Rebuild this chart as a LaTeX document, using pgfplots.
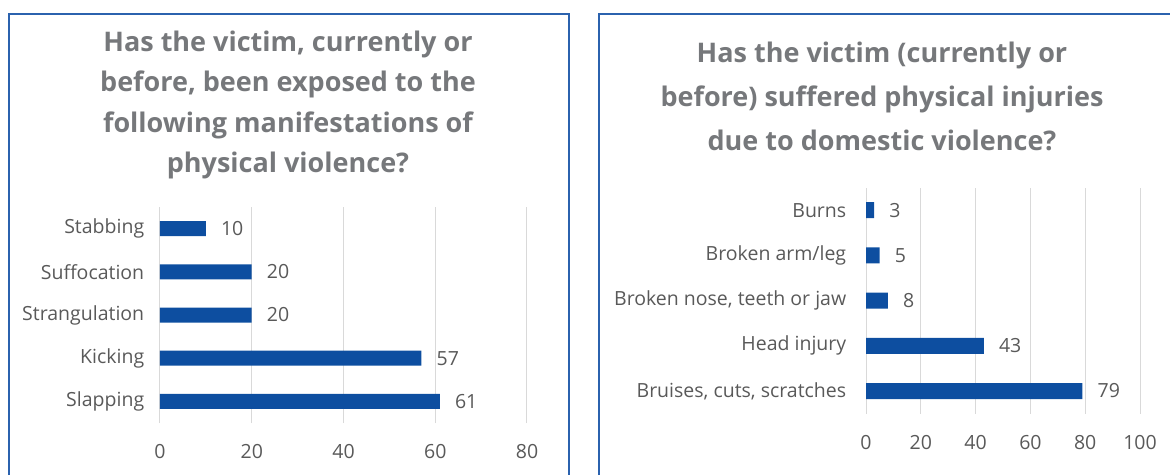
\documentclass[border=0pt]{standalone}
\usepackage{pgfplots}
\pgfplotsset{compat=1.18}
\usepackage{fontspec}
\setmainfont{Open Sans}
\newfontfamily\titlefont{Open Sans}
\definecolor{barblue}{RGB}{13,78,160}
\definecolor{frameblue}{RGB}{43,98,174}
\definecolor{gridgray}{RGB}{217,217,217}
\definecolor{labelgray}{RGB}{89,89,89}
\definecolor{titlegray}{RGB}{118,120,123}
\pgfplotsset{
  mybars/.style={
    xbar, scale only axis,
    axis line style={draw=none},
    tick style={draw=none},
    xmajorgrids, grid style={gridgray, line width=1pt},
    ymin=-0.5, ymax=4.5, ytick={0,1,2,3,4},
    /pgf/number format/assume math mode=true,
    ticklabel style={font=\fontsize{19.5}{21}\selectfont, text=labelgray},
    xticklabel style={yshift=-18pt},
    nodes near coords,
    every node near coord/.append style={font=\fontsize{19.5}{21}\selectfont, text=labelgray, anchor=west, inner sep=0pt, xshift=15pt},
  }
}
\begin{document}
\begin{tikzpicture}[x=1pt,y=1pt]
\useasboundingbox (0,0) rectangle (1170,475);
% frames
\draw[frameblue, line width=2pt] (8.5,0) -- (8.5,460.5) -- (569,460.5) -- (569,0);
\draw[frameblue, line width=2pt] (598.5,0) -- (598.5,460.5) -- (1180,460.5);
% titles
\node[font=\titlefont\bfseries\fontsize{27}{40.5}\selectfont, text=titlegray, align=center] at (288,370) {Has the victim, currently or\\before, been exposed to the\\following manifestations of\\physical violence?};
\node[font=\titlefont\bfseries\fontsize{27}{44}\selectfont, text=titlegray, align=center] at (882,379) {Has the victim (currently or\\before) suffered physical injuries\\due to domestic violence?};
% left chart
\begin{axis}[mybars, at={(160pt,52pt)}, anchor=south west,
  width=367pt, height=216pt, xmin=0, xmax=80, xtick={0,20,40,60,80},
  bar width=15pt, yticklabel style={xshift=-8pt},
  yticklabels={Slapping,Kicking,Strangulation,Suffocation,Stabbing}]
\addplot[fill=barblue, draw=none] coordinates {(61,0) (57,1) (20,2) (20,3) (10,4)};
\end{axis}
% right chart
\begin{axis}[mybars, at={(866pt,61.4pt)}, anchor=south west,
  width=274pt, height=226pt, xmin=0, xmax=100, xtick={0,20,40,60,80,100},
  bar width=16pt, yticklabel style={xshift=-12pt},
  yticklabels={{Bruises, cuts, scratches},Head injury,{Broken nose, teeth or jaw},Broken arm/leg,Burns}]
\addplot[fill=barblue, draw=none] coordinates {(79,0) (43,1) (8,2) (5,3) (3,4)};
\end{axis}
\end{tikzpicture}
\end{document}
